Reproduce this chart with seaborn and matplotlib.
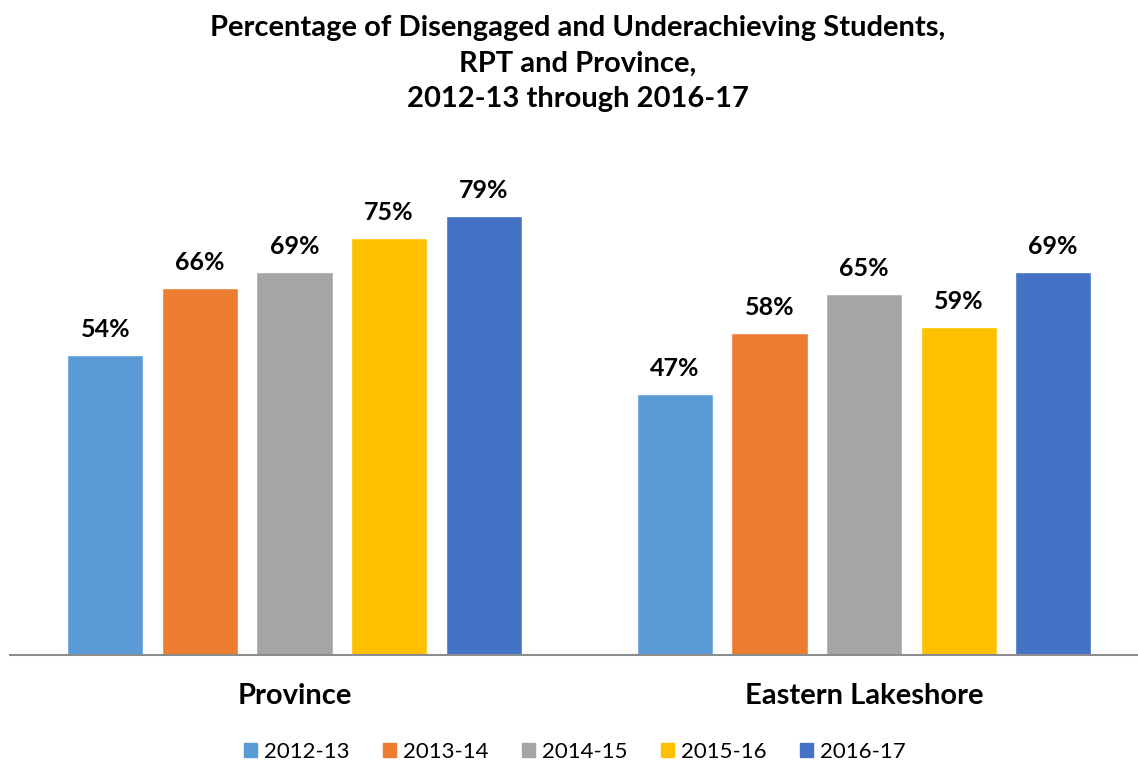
import pandas as pd
import seaborn as sns
import matplotlib.pyplot as plt

# chart data
regions = ['Province', 'Eastern Lakeshore']
years = ['2012-13', '2013-14', '2014-15', '2015-16', '2016-17']
province_pct = [54, 66, 69, 75, 79]
lakeshore_pct = [47, 58, 65, 59, 69]
colors = ['#5B9BD5', '#ED7D31', '#A5A5A5', '#FFC000', '#4472C4']

df = pd.DataFrame({
    'region': [regions[0]] * len(years) + [regions[1]] * len(years),
    'year': years + years,
    'pct': province_pct + lakeshore_pct,
})

sns.set_style('white')
plt.rcParams['font.family'] = ['Lato', 'DejaVu Sans']
plt.rcParams['text.color'] = 'black'
plt.rcParams['xtick.color'] = 'black'

fig = plt.figure(figsize=(11.38, 7.66), dpi=100)
ax = fig.add_axes([0.00857, 0.1449, 1.0009, 0.6527])

sns.barplot(data=df, x='region', y='pct', hue='year', hue_order=years,
            palette=colors, width=0.83, gap=0.195, saturation=1, ax=ax, legend=False)

for cont in ax.containers:
    ax.bar_label(cont, labels=[f'{v:.0f}%' for v in cont.datavalues],
                 padding=10, fontsize=18, fontweight='bold', color='black')

ax.set_ylim(0, 90)
ax.set_xlim(-0.5, 1.5)
ax.set_yticks([])
ax.set_xlabel('')
ax.set_ylabel('')
ax.tick_params(axis='x', length=0, pad=20, labelsize=21, labelcolor='black')
for lbl in ax.get_xticklabels():
    lbl.set_fontweight('bold')
for s in ['top', 'right', 'left']:
    ax.spines[s].set_visible(False)
ax.spines['bottom'].set_color('#8C8C8C')
ax.spines['bottom'].set_linewidth(1.5)

handles = [plt.Rectangle((0, 0), 1, 1, color=c) for c in colors]
fig.legend(handles, years, loc='center', bbox_to_anchor=(0.505, 0.018), ncol=5,
           frameon=False, fontsize=16, handlelength=0.6, handleheight=0.6,
           handletextpad=0.3, columnspacing=1.5)

fig.text(0.508, 0.980, 'Percentage of Disengaged and Underachieving Students,\nRPT and Province,\n2012-13 through 2016-17',
         ha='center', va='top', fontsize=21, fontweight='bold', linespacing=1.45, color='black')

fig.savefig('out.png', dpi=100)
